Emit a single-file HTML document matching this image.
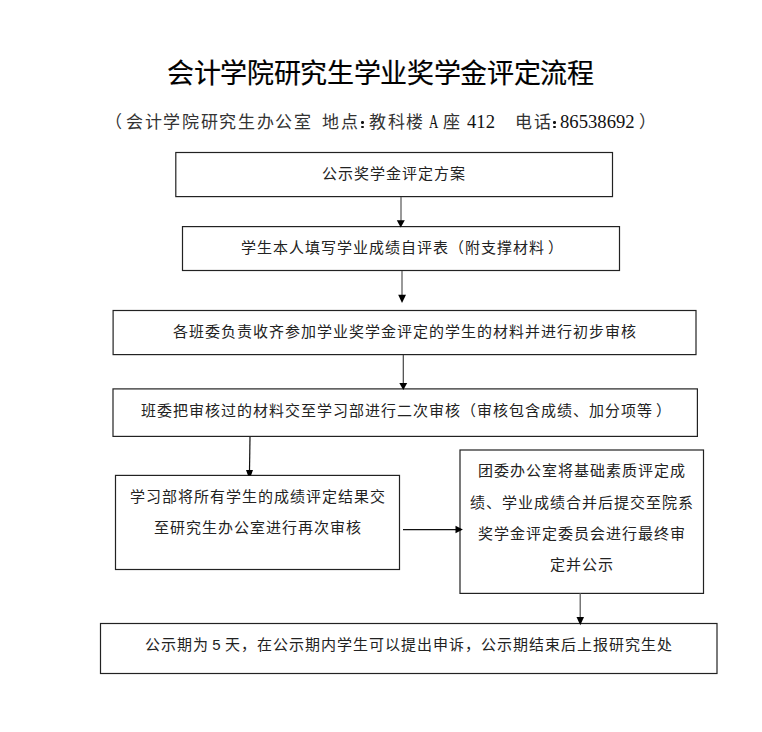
<!DOCTYPE html>
<html lang="zh-CN"><head><meta charset="utf-8">
<style>
html,body{margin:0;padding:0;background:#fff;}
body{width:762px;height:732px;position:relative;overflow:hidden;font-family:"Liberation Sans",sans-serif;color:#1a1a1a;}
.t{position:absolute;white-space:nowrap;font-size:15px;letter-spacing:1px;line-height:16px;color:#222;}
svg{position:absolute;left:0;top:0;}
.sub span{position:absolute;top:112.5px;font-size:17px;letter-spacing:1.67px;line-height:20px;white-space:nowrap;color:#333;}
.sub span.d{font-family:"Liberation Serif",serif;font-size:18.67px;letter-spacing:0;top:112px;color:#111;}
.sub span.a{font-size:19.5px;transform:scaleX(0.66);transform-origin:0 0;}
.dot{position:absolute;width:2.7px;height:2.7px;border-radius:50%;background:#111;}
</style></head><body>
<svg width="762" height="732" viewBox="0 0 762 732">
<g fill="none" stroke="#222" stroke-width="1.2">
<rect x="175.8" y="152.5" width="436.7" height="44.1"/>
<rect x="182.5" y="226.6" width="437" height="43.9"/>
<rect x="113.1" y="310.5" width="582.9" height="44.1"/>
<rect x="113" y="388.9" width="584.4" height="47.5"/>
<rect x="115.5" y="475.4" width="284" height="94.1"/>
<rect x="460" y="450" width="243.5" height="143.4"/>
<rect x="100.5" y="623.5" width="616.5" height="50"/>
</g>
<g stroke-width="1.2" fill="none">
<line x1="401" y1="197" x2="401" y2="221" stroke="#555"/>
<line x1="402" y1="271" x2="402" y2="295" stroke="#555"/>
<line x1="403.3" y1="355" x2="403.3" y2="383.5" stroke="#444"/>
<line x1="250" y1="437" x2="249.5" y2="470.5" stroke="#111"/>
<line x1="403" y1="529.6" x2="456" y2="529.6" stroke="#111"/>
<line x1="580.2" y1="593" x2="580.2" y2="618" stroke="#555"/>
</g>
<g fill="#000">
<polygon points="396.8,220.2 404.8,220.2 400.7,227.5"/>
<polygon points="398.2,294.8 406,294.8 402,303"/>
<polygon points="399.3,383 407.2,383 403.3,390"/>
<polygon points="246,470 253,470 251,475.6 248,475.6"/>
<polygon points="455.5,525.8 462.9,529.6 455.5,533.2"/>
<polygon points="576.5,617 584,617 580.3,625.3"/>
</g>
</svg>
<div class="t" style="left:167px;top:58.4px;font-size:27px;letter-spacing:-0.33px;line-height:32px;-webkit-text-stroke:0.2px #000;color:#000;">会计学院研究生学业奖学金评定流程</div>
<div class="sub">
<span style="left:104.5px">（</span>
<span style="left:126px">会计学院研究生办公室</span>
<span style="left:322px">地点</span>
<i class="dot" style="left:361px;top:121px"></i><i class="dot" style="left:361px;top:125.7px"></i>
<span style="left:369px">教科楼</span>
<span class="d a" style="left:429px">A</span>
<span style="left:443px">座</span>
<span class="d" style="left:467px">412</span>
<span style="left:515px">电话</span>
<i class="dot" style="left:553.2px;top:121px"></i><i class="dot" style="left:553.2px;top:125.7px"></i>
<span class="d" style="left:560px">86538692</span>
<span style="left:638.5px">）</span>
</div>
<div class="t" style="left:322px;top:166px;">公示奖学金评定方案</div>
<div class="t" style="left:241px;top:240px;">学生本人填写学业成绩自评表（附支撑材料<span style="margin-left:3px">）</span></div>
<div class="t" style="left:173px;top:324px;">各班委负责收齐参加学业奖学金评定的学生的材料并进行初步审核</div>
<div class="t" style="left:141px;top:403px;">班委把审核过的材料交至学习部进行二次审核（审核包含成绩、加分项等<span style="margin-left:2.5px">）</span></div>
<div class="t" style="left:130px;top:489px;">学习部将所有学生的成绩评定结果交</div>
<div class="t" style="left:154px;top:520px;">至研究生办公室进行再次审核</div>
<div class="t" style="left:478px;top:463px;">团委办公室将基础素质评定成</div>
<div class="t" style="left:470px;top:495px;">绩、学业成绩合并后提交至院系</div>
<div class="t" style="left:478px;top:526px;">奖学金评定委员会进行最终审</div>
<div class="t" style="left:550px;top:557px;">定并公示</div>
<div class="t" style="left:145px;top:637px;word-spacing:-2px;">公示期为 5 天，在公示期内学生可以提出申诉，公示期结束后上报研究生处</div>
</body></html>
